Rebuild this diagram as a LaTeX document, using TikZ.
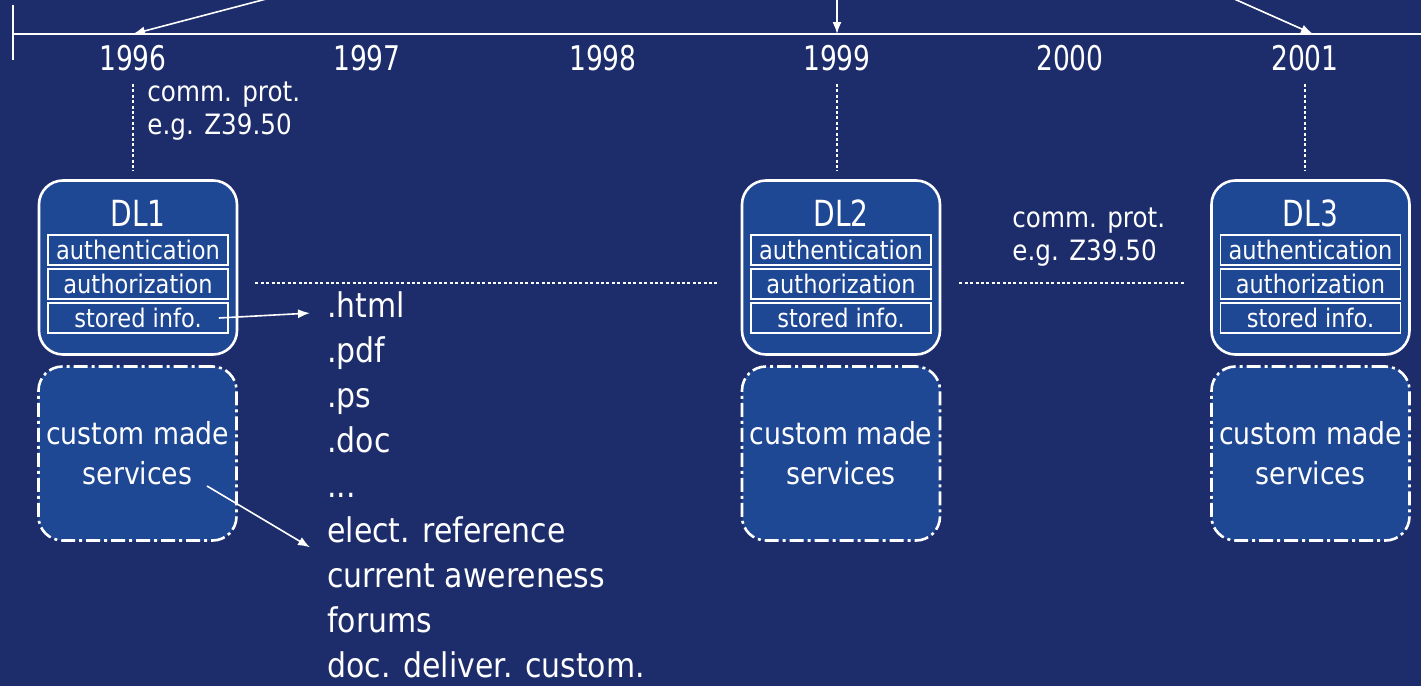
\documentclass[tikz,border=0pt]{standalone}
\usepackage{fontspec}
\setmainfont{DejaVu Sans}[FakeStretch=0.88]
\newfontfamily\narrowface{DejaVu Sans}[FakeStretch=0.78]
\usepackage{tikz}
\usetikzlibrary{arrows.meta}
\definecolor{navy}{RGB}{29,45,107}
\definecolor{dlblue}{RGB}{30,71,148}
\newcommand\yrfont{\narrowface\fontsize{17}{19}\selectfont}
\newcommand\dlfont{\narrowface\fontsize{18}{20}\selectfont}
\newcommand\rowfont{\fontsize{12.8}{14}\selectfont}
\newcommand\notefont{\fontsize{14}{16.5}\selectfont}
\newcommand\cmfont{\fontsize{15.2}{20}\selectfont}
\newcommand\listfont{\fontsize{17}{20}\selectfont}
\tikzstyle{every edge} = [draw,white,line width=0.8pt,-{Latex[length=6pt,width=4.5pt]}]
\tikzstyle{axis} = [draw=white,line width=1pt]
\tikzstyle{dotline} = [draw=white,line width=0.6pt,dash pattern=on 1.5pt off 1.2pt]
\tikzstyle{yearlbl} = [text=white,font=\yrfont]
\tikzstyle{dlbox} = [draw=white,line width=1.3pt,fill=dlblue,rounded corners=12pt,minimum width=99pt,minimum height=87pt]
\tikzstyle{cmbox} = [dlbox,dash pattern=on 7pt off 2pt on 1.5pt off 2pt,align=center,text=white,font=\cmfont]
\tikzstyle{dltitle} = [text=white,font=\dlfont,inner sep=0pt]
\tikzstyle{dlrow} = [draw=white,line width=0.8pt,minimum width=90pt,minimum height=15pt,inner sep=0pt,text=white,font=\rowfont]
\tikzstyle{protnote} = [text=white,font=\notefont,align=left,anchor=west,inner sep=0pt]
\tikzstyle{fmt} = [text=white,font=\listfont,anchor=base west,inner sep=0pt]

\begin{document}
\begin{tikzpicture}[x=0.5pt,y=-0.5pt]

\fill[navy] (0,0) rectangle (1421,686);
\useasboundingbox (0,0) rectangle (1421,686);

% time line
\coordinate (tl0) at (13,34);
\coordinate (tl1) at (1421,34);
\coordinate (tk0) at (13,5);
\coordinate (tk1) at (13,60);
\draw[axis] (tl0) -- (tl1);
\draw[axis] (tk0) -- (tk1);

\node[yearlbl] (y96) at (133,58) {1996};
\node[yearlbl] (y97) at (367,58) {1997};
\node[yearlbl] (y98) at (603,58) {1998};
\node[yearlbl] (y99) at (837,58) {1999};
\node[yearlbl] (y00) at (1070,58) {2000};
\node[yearlbl] (y01) at (1305,58) {2001};

% arrows coming in from above
\coordinate (s96) at (270,-2);
\coordinate (p96) at (133,34);
\coordinate (s99) at (837,-2);
\coordinate (p99) at (837,34);
\coordinate (s01) at (1232,-2);
\coordinate (p01) at (1313,34);
\draw (s96) edge (p96);
\draw (s99) edge (p99);
\draw (s01) edge (p01);

% digital libraries
\node[dlbox] (dl1) at (138,267.5) {};
\node[dltitle] (dl1t) at (138,213) {DL1};
\node[dlrow] (dl1a) at (138,250) {authentication};
\node[dlrow] (dl1b) at (138,284) {authorization};
\node[dlrow] (dl1c) at (138,318) {stored info.};
\node[cmbox] (cm1) at (137.5,453.5) {custom made\\services};

\node[dlbox] (dl2) at (841,267.5) {};
\node[dltitle] (dl2t) at (841,213) {DL2};
\node[dlrow] (dl2a) at (841,250) {authentication};
\node[dlrow] (dl2b) at (841,284) {authorization};
\node[dlrow] (dl2c) at (841,318) {stored info.};
\node[cmbox] (cm2) at (841,453.5) {custom made\\services};

\node[dlbox] (dl3) at (1310.5,267.5) {};
\node[dltitle] (dl3t) at (1310.5,213) {DL3};
\node[dlrow] (dl3a) at (1310.5,250) {authentication};
\node[dlrow] (dl3b) at (1310.5,284) {authorization};
\node[dlrow] (dl3c) at (1310.5,318) {stored info.};
\node[cmbox] (cm3) at (1310.5,453.5) {custom made\\services};

% protocol notes
\node[protnote] (cp1) at (147,111) {comm. prot.\\e.g. Z39.50};
\node[protnote] (cp2) at (1012,237) {comm. prot.\\e.g. Z39.50};

\draw[dotline,shorten <=3pt,shorten >=4pt] (y96.south) -- (y96.south |- dl1.north);
\draw[dotline,shorten <=3pt,shorten >=4pt] (y99.south) -- (y99.south |- dl2.north);
\draw[dotline,shorten <=3pt,shorten >=4pt] (y01.south) -- (y01.south |- dl3.north);
\draw[dotline] ([shift={(17,15.5)}]dl1.east) -- ([shift={(-22,15.5)}]dl2.west);
\draw[dotline] ([shift={(18,15.5)}]dl2.east) -- ([shift={(-26,15.5)}]dl3.west);

% formats and services
\node[fmt] (f1) at (327,317) {.html};
\node[fmt] (f2) at (327,362) {.pdf};
\node[fmt] (f3) at (327,407) {.ps};
\node[fmt] (f4) at (327,452) {.doc};
\node[fmt] (f5) at (327,497) {...};
\node[fmt] (f6) at (327,542) {elect. reference};
\node[fmt] (f7) at (327,587) {current awereness};
\node[fmt] (f8) at (327,632) {forums};
\node[fmt] (f9) at (327,677) {doc. deliver. custom.};

\draw ([xshift=-5pt]dl1c.east) edge ([shift={(-17,9)}]f1.west);
\draw ([shift={(69.5,32.5)}]cm1.center) edge ([shift={(-17,18)}]f6.west);

\end{tikzpicture}
\end{document}
